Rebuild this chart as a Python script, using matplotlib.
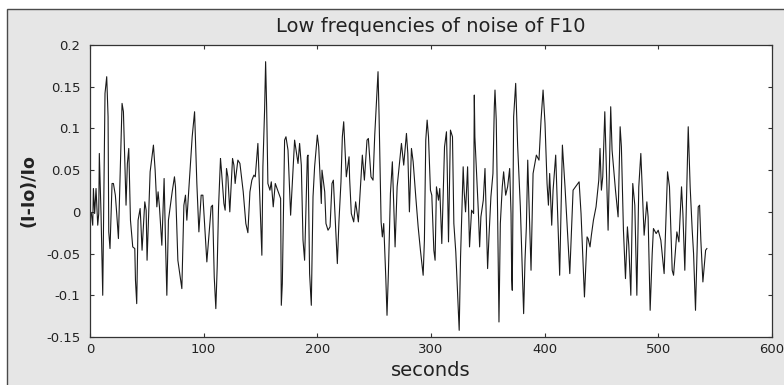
import matplotlib
matplotlib.use("Agg")
import matplotlib.pyplot as plt
from matplotlib.patches import Rectangle

time_s = [
    1.2, 2.4, 3.0, 4.1, 5.3, 6.8, 7.7, 8.2, 9.7, 11.2, 12.7, 13.2, 14.7, 15.9, 16.5, 17.6,
    19.4, 20.6, 22.3, 23.5, 25.0, 28.2, 29.4, 30.9, 31.7, 32.9, 34.1, 35.6, 37.6, 39.4,
    40.0, 41.1, 42.3, 44.1, 44.7, 45.8, 48.2, 49.4, 50.2, 52.9, 55.8, 57.3, 58.8, 59.9,
    61.1, 63.2, 65.2, 66.4, 67.6, 69.0, 72.3, 74.3, 75.2, 77.3, 80.8, 82.6, 84.0, 85.2,
    89.9, 92.0, 94.0, 95.8, 97.8, 99.3, 99.9, 102.8, 106.6, 107.8, 109.3, 110.7,
    111.9, 113.1, 114.8, 115.4, 117.8, 118.9, 120.1, 121.3, 123.0, 125.4, 126.6, 127.7,
    128.3, 130.1, 131.9, 134.8, 137.1, 138.9, 140.7, 142.4, 144.2, 145.4, 147.7, 151.2,
    152.1, 153.6, 154.5, 155.4, 156.5, 158.3, 159.5, 161.2, 163.0, 167.7, 168.3, 169.2,
    171.2, 172.4, 174.2, 176.5, 180.0, 183.0, 184.4, 185.9, 187.4, 188.8, 191.2, 191.8,
    193.2, 194.7, 196.2, 197.6, 200.0, 201.2, 203.5, 204.1, 206.5, 207.6, 209.4, 211.2,
    212.9, 214.1, 217.6, 219.0, 220.8, 222.0, 223.2, 225.5, 227.9, 228.4, 229.9, 232.0,
    233.7, 236.1, 239.6, 241.4, 243.7, 244.9, 247.2, 249.0, 250.5, 253.4, 254.3, 256.1,
    257.2, 258.4, 260.2, 261.3, 262.5, 264.3, 266.0, 268.4, 270.2, 274.0, 276.0, 278.4,
    279.6, 281.0, 282.8, 284.3, 286.6, 288.7, 290.7, 293.1, 294.2, 295.4, 296.6, 297.8,
    299.5, 300.7, 302.5, 303.6, 304.8, 306.6, 307.7, 309.5, 311.9, 313.6, 314.2, 315.4,
    317.1, 318.9, 320.1, 321.8, 324.8, 326.0, 328.3, 329.2, 330.4, 332.2, 333.9, 335.7,
    337.5, 338.1, 338.6, 339.8, 341.6, 342.8, 343.9, 346.0, 347.5, 349.8, 351.0, 352.7,
    354.5, 355.7, 356.3, 357.4, 358.6, 359.8, 361.0, 362.7, 363.9, 365.7, 367.4, 369.2,
    370.4, 371.0, 371.5, 372.7, 374.5, 376.2, 378.6, 381.5, 382.7, 383.9, 385.1, 388.0,
    389.8, 392.7, 395.0, 396.8, 398.6, 400.3, 402.1, 403.3, 404.4, 406.2, 407.4, 409.7,
    413.2, 415.6, 417.9, 420.3, 422.1, 425.0, 430.3, 432.0, 435.0, 437.3, 438.2, 439.9,
    441.1, 442.9, 445.2, 447.6, 448.7, 449.9, 451.1, 452.9, 455.8, 457.0, 458.1, 459.3,
    462.3, 464.6, 466.4, 467.5, 469.3, 471.1, 472.8, 474.0, 475.8, 477.5, 479.3, 481.1,
    482.8, 484.6, 487.5, 489.9, 491.0, 492.8, 494.6, 495.7, 498.1, 499.9, 502.2, 505.1,
    508.1, 509.8, 512.2, 513.4, 516.3, 518.1, 520.4, 521.6, 523.3, 526.3, 528.0, 529.8,
    531.0, 532.7, 535.1, 536.3, 537.4, 539.2, 541.6, 542.7,
]

rel_intensity = [
    -0.002, -0.016, 0.028, -0.002, 0.028, -0.016, -0.002, 0.070, -0.002, -0.100, 0.086, 0.142,
    0.162, 0.114, -0.024, -0.044, 0.034, 0.034, 0.020, -0.002, -0.032, 0.130, 0.120, 0.046,
    0.008, 0.058, 0.076, -0.010, -0.042, -0.044, -0.082, -0.110, -0.010, 0.004, -0.012, -0.046,
    0.012, 0.002, -0.058, 0.048, 0.080, 0.050, 0.006, 0.024, 0.006, -0.040, 0.040, -0.034,
    -0.100, -0.010, 0.024, 0.042, 0.030, -0.058, -0.092, 0.008, 0.020, -0.010, 0.090, 0.120,
    0.034, -0.024, 0.020, 0.020, 0.006, -0.060, 0.006, 0.008, -0.078, -0.116,
    -0.066, 0.006, 0.064, 0.054, 0.010, 0.002, 0.052, 0.042, 0.000, 0.064, 0.056, 0.034,
    0.042, 0.062, 0.058, 0.024, -0.014, -0.025, 0.024, 0.038, 0.044, 0.042, 0.082, -0.052,
    0.054, 0.122, 0.180, 0.126, 0.034, 0.026, 0.036, 0.006, 0.034, 0.016, -0.112, -0.086,
    0.086, 0.090, 0.074, -0.004, 0.086, 0.058, 0.082, 0.056, -0.034, -0.058, 0.066, 0.068,
    -0.074, -0.112, 0.018, 0.054, 0.092, 0.078, 0.010, 0.050, 0.024, -0.014, -0.022, -0.018,
    0.034, 0.038, -0.062, -0.012, 0.036, 0.090, 0.108, 0.042, 0.066, 0.040, -0.002, -0.012,
    0.012, -0.012, 0.068, 0.038, 0.086, 0.088, 0.042, 0.038, 0.092, 0.168, 0.116, -0.012,
    -0.030, -0.014, -0.078, -0.124, -0.074, 0.022, 0.060, -0.042, 0.030, 0.082, 0.056, 0.094,
    0.070, 0.000, 0.076, 0.060, 0.018, -0.018, -0.046, -0.076, -0.034, 0.086, 0.110, 0.090,
    0.026, 0.020, -0.046, -0.058, 0.030, 0.014, 0.028, -0.038, 0.078, 0.096, 0.058, -0.036,
    0.098, 0.090, -0.014, -0.048, -0.142, -0.054, 0.054, 0.024, 0.000, 0.054, -0.042, 0.002,
    -0.002, 0.140, 0.090, 0.054, 0.002, -0.042, -0.006, 0.014, 0.052, -0.068, -0.030, 0.018,
    0.046, 0.126, 0.146, 0.110, -0.002, -0.132, -0.014, 0.030, 0.048, 0.020, 0.030, 0.052,
    -0.002, -0.080, -0.094, 0.114, 0.154, 0.080, 0.006, -0.122, -0.058, -0.018, 0.062, -0.070,
    0.046, 0.068, 0.062, 0.110, 0.146, 0.106, 0.034, 0.008, 0.046, -0.016, 0.026, 0.068,
    -0.076, 0.080, 0.030, -0.030, -0.074, 0.026, 0.036, -0.002, -0.102, -0.030, -0.032, -0.042,
    -0.028, -0.010, 0.006, 0.038, 0.076, 0.026, 0.042, 0.120, -0.022, 0.054, 0.126, 0.074,
    0.026, -0.006, 0.102, 0.078, -0.022, -0.080, -0.018, -0.040, -0.100, 0.034, 0.008, -0.100,
    0.030, 0.070, -0.028, 0.012, -0.006, -0.118, -0.050, -0.020, -0.026, -0.022, -0.034, -0.074,
    0.048, 0.030, -0.070, -0.076, -0.024, -0.036, 0.030, -0.002, -0.070, 0.102, 0.030, -0.022,
    -0.050, -0.118, 0.006, 0.008, -0.034, -0.084, -0.046, -0.044,
]

x_ticks = [0, 100, 200, 300, 400, 500, 600]
y_ticks = [-0.15, -0.1, -0.05, 0, 0.05, 0.1, 0.15, 0.2]
y_tick_labels = ["-0.15", "-0.1", "-0.05", "0", "0.05", "0.1", "0.15", "0.2"]

plt.rcParams['font.family'] = ['DejaVu Sans']

W, H = 784, 385
fig = plt.figure(figsize=(W / 100, H / 100), dpi=100, facecolor='white')

# gray panel with frame (drawn behind the axes)
panel = Rectangle((7 / W, -0.1), 1.2, 1 - 9 / H + 0.1,
                  transform=fig.transFigure, facecolor='#e6e6e6',
                  edgecolor='#4a4a4a', linewidth=1.0, zorder=-10)
fig.patches.append(panel)

ax = fig.add_axes([90 / W, 1 - 337 / H, (772 - 90) / W, (337 - 45) / H])
ax.set_zorder(5)
ax.set_facecolor('white')
ax.plot(time_s, rel_intensity, color='#1a1a1a', linewidth=0.8)

ax.set_xlim(0, 600)
ax.set_ylim(-0.15, 0.2)
ax.set_xticks(x_ticks)
ax.set_yticks(y_ticks)
ax.set_yticklabels(y_tick_labels)
ax.tick_params(direction='in', length=3, width=0.8, colors='#333333',
               labelcolor='#222222', labelsize=9.5, top=True, right=True)
ax.tick_params(axis='y', pad=7)
ax.tick_params(axis='x', pad=4)
for s in ax.spines.values():
    s.set_color('#333333')
    s.set_linewidth(0.9)

ax.set_title('Low frequencies of noise of F10', fontsize=14, color='#222222', pad=9)
ax.set_xlabel('seconds', fontsize=14, color='#222222', labelpad=4)
ax.set_ylabel('(I-Io)/Io', fontsize=12.5, fontweight='bold', color='#222222', labelpad=6)

fig.savefig('out.png', dpi=100, facecolor=fig.get_facecolor())
